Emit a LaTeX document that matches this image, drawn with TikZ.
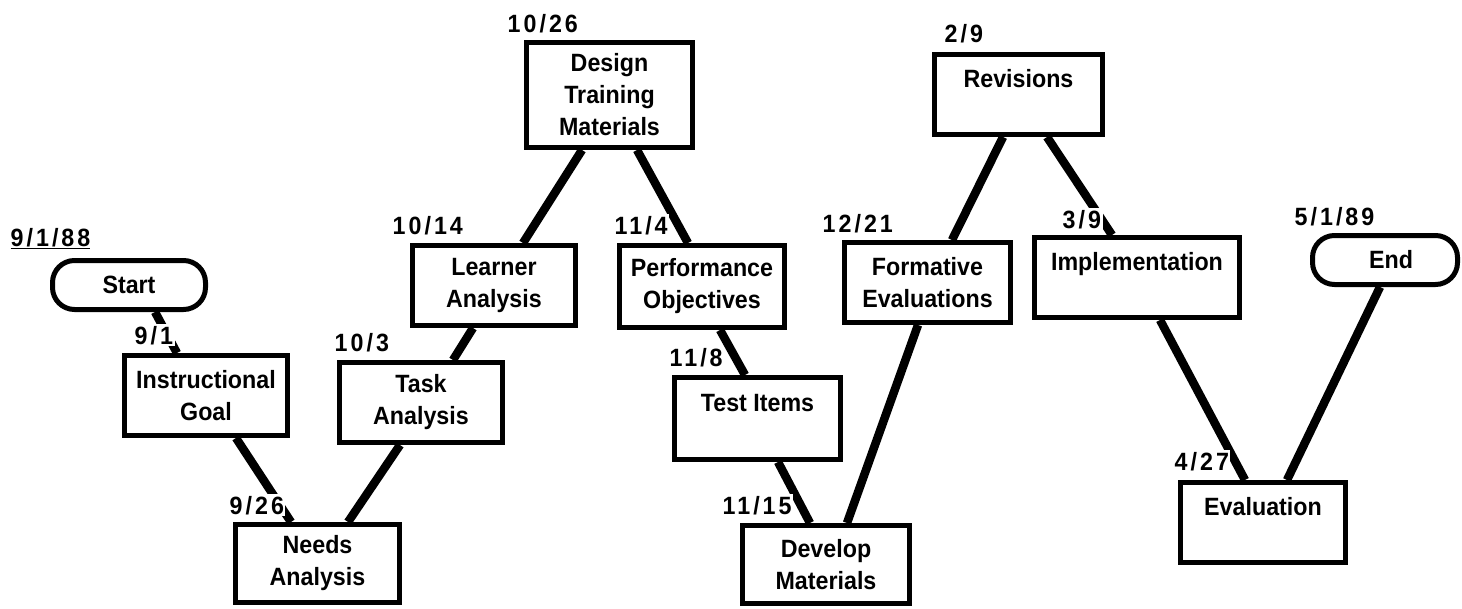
\documentclass[tikz,border=0pt]{standalone}
\usepackage{fontspec}
\setmainfont{Liberation Sans}
\newfontfamily\boxfont{Liberation Sans}[FakeStretch=0.93]
\newfontfamily\datefont{Liberation Sans}[LetterSpace=12,FakeStretch=0.93]
\begin{document}
\begin{tikzpicture}[x=1pt,y=-1pt,
  box/.style={draw, line width=5pt, rectangle, align=center, inner sep=0pt,
    font=\boxfont\fontsize{25}{32}\selectfont\bfseries},
  term/.style={box, rounded corners=22pt},
  conn/.style={line width=8.5pt},
  date/.style={anchor=base west, inner sep=1.5pt, fill=white,
    font=\datefont\fontsize{25}{28}\selectfont\bfseries}]
\useasboundingbox (0,0) rectangle (1462,608);

\node[term, minimum width=153, minimum height=49] (start) at (129,285) {Start};
\node[box, minimum width=163, minimum height=80] (ig) at (206,395.5) {Instructional\\Goal};
\node[box, minimum width=164, minimum height=78] (na) at (317.5,563.5) {Needs\\Analysis};
\node[box, minimum width=163, minimum height=80] (ta) at (421,402.5) {Task\\Analysis};
\node[box, minimum width=163, minimum height=80] (la) at (494,285.5) {Learner\\Analysis};
\node[box, minimum width=166, minimum height=105] (dtm) at (609.5,95) {Design\\Training\\Materials};
\node[box, minimum width=165, minimum height=82] (po) at (702,286.5) {Performance\\Objectives};
\node[box, minimum width=166, minimum height=82] (ti) at (757.5,418.5) {Test Items\\\mbox{}};
\node[box, minimum width=167, minimum height=78] (dm) at (826,564.5) {Develop\\Materials};
\node[box, minimum width=166, minimum height=80] (fe) at (927.5,282.5) {Formative\\Evaluations};
\node[box, minimum width=168, minimum height=80] (rev) at (1018.5,94.5) {Revisions\\\mbox{}};
\node[box, minimum width=205, minimum height=80] (impl) at (1137,277.5) {Implementation\\\mbox{}};
\node[box, minimum width=165, minimum height=80] (ev) at (1263,522.5) {Evaluation\\\mbox{}};
\node[term, minimum width=145, minimum height=49] (end) at (1385,260) {\hspace*{12pt}End};

\draw[conn] ([xshift=26]start.south) -- ([xshift=-29]ig.north);
\draw[conn] ([xshift=30]ig.south) -- ([xshift=-26.5]na.north);
\draw[conn] ([xshift=30.5]na.north) -- ([xshift=-21]ta.south);
\draw[conn] ([xshift=32]ta.north) -- ([xshift=-21]la.south);
\draw[conn] ([xshift=29]la.north) -- ([xshift=-27.5]dtm.south);
\draw[conn] ([xshift=27.5]dtm.south) -- ([xshift=-14]po.north);
\draw[conn] ([xshift=18]po.south) -- ([xshift=-12.5]ti.north);
\draw[conn] ([xshift=20.5]ti.south) -- ([xshift=-16]dm.north);
\draw[conn] ([xshift=21]dm.north) -- ([xshift=-9.5]fe.south);
\draw[conn] ([xshift=24.5]fe.north) -- ([xshift=-15.5]rev.south);
\draw[conn] ([xshift=28.5]rev.south) -- ([xshift=-25]impl.north);
\draw[conn] ([xshift=23]impl.south) -- ([xshift=-18]ev.north);
\draw[conn] ([xshift=-5]end.south) -- ([xshift=24]ev.north);

\node[date, fill=none] (d0) at (9,246) {\underline{9/1/88}};
\node[date] (d1) at (133,344) {9/1};
\node[date] (d2) at (228,514) {9/26};
\node[date] (d3) at (333,351) {10/3};
\node[date] (d4) at (391,234) {10/14};
\node[date] (d5) at (506,32) {10/26};
\node[date] (d6) at (613,234) {11/4};
\node[date] (d7) at (668,366) {11/8};
\node[date] (d8) at (721,514) {11/15};
\node[date] (d9) at (821,232) {12/21};
\node[date] (d10) at (943,42) {2/9};
\node[date] (d11) at (1061,228) {3/9};
\node[date] (d12) at (1293,225) {5/1/89};
\node[date] (d13) at (1173,470) {4/27};
\end{tikzpicture}
\end{document}
